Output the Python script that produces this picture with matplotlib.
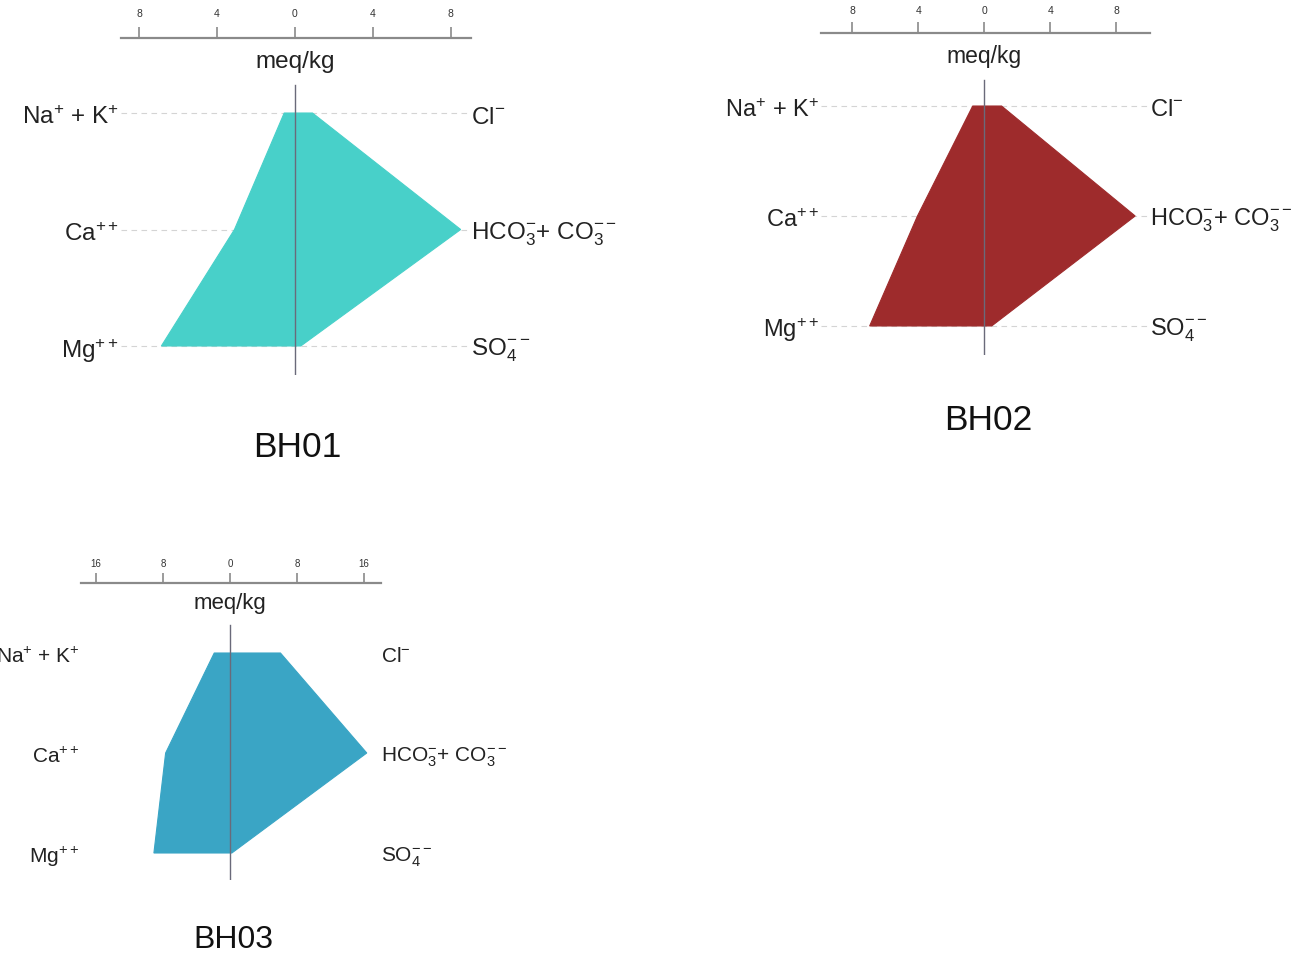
import matplotlib
matplotlib.use("Agg")
import matplotlib.pyplot as plt
import matplotlib.transforms as mtransforms

plt.rcParams["font.family"] = ["Liberation Sans", "DejaVu Sans"]
plt.rcParams["mathtext.fontset"] = "custom"
plt.rcParams["mathtext.rm"] = "Liberation Sans"
plt.rcParams["mathtext.it"] = "Liberation Sans:italic"
plt.rcParams["mathtext.bf"] = "Liberation Sans:bold"

# Ion labels (rows top to bottom)
cation_labels = [r"Na$^{+}$ + K$^{+}$", r"Ca$^{++}$", r"Mg$^{++}$"]
anion_labels = [r"Cl$^{-}$", r"HCO$_3^{-}$+ CO$_3^{\mathrm{--}}$", r"SO$_4^{\mathrm{--}}$"]

# Concentrations in meq/kg: [Na+K, Ca, Mg] and [Cl, HCO3+CO3, SO4]
bh01_cations = [0.55, 3.1, 6.85]
bh01_anions = [0.9, 8.5, 0.3]
bh02_cations = [0.7, 4.05, 6.95]
bh02_anions = [1.05, 9.15, 0.45]
bh03_cations = [1.9, 7.7, 9.1]
bh03_anions = [6.0, 16.3, 0.2]

# Scale ticks and their (absolute value) labels
ticks_small = [-8, -4, 0, 4, 8]
ticklabels_small = ["8", "4", "0", "4", "8"]
ticks_large = [-16, -8, 0, 8, 16]
ticklabels_large = ["16", "8", "0", "8", "16"]

sample_names = ["BH01", "BH02", "BH03"]
sample_colors = ["#48D0C9", "#9E2B2C", "#3AA5C5"]

W, H = 1300, 958
fig = plt.figure(figsize=(W / 100, H / 100), dpi=100)


def stiff(name, cations, anions, color, box, xlim, ylim, ticks, ticklabels,
          title_xy, fs_lab, fs_unit, fs_tick, fs_title, grid=True, line_top=-0.24,
          tick_len=7, tick_pad=5):
    left, top, right, bottom = box
    ax = fig.add_axes([left / W, 1 - bottom / H, (right - left) / W, (bottom - top) / H])
    ax.set_xlim(*xlim)
    ax.set_ylim(ylim[1], ylim[0])
    ax.patch.set_alpha(0)
    for s in ("left", "right", "bottom"):
        ax.spines[s].set_visible(False)
    ax.spines["top"].set_color("#8a8a8a")
    ax.spines["top"].set_linewidth(1.6)
    ax.set_yticks([])
    ax.xaxis.set_ticks_position("top")
    ax.set_xticks(ticks)
    ax.set_xticklabels(ticklabels)
    ax.tick_params(axis="x", direction="out", length=tick_len, width=1.2, color="#8a8a8a",
                   labelsize=fs_tick, labelcolor="#333333", pad=tick_pad)

    rows = list(range(len(cations)))
    if grid:
        for r in rows:
            ax.plot(xlim, [r, r], color="#d4d4d4", lw=0.8, ls=(0, (5, 4)), zorder=1)

    xs = [-c for c in cations] + [a for a in anions[::-1]]
    ys = rows + rows[::-1]
    ax.fill(xs, ys, facecolor=color, edgecolor=color, lw=0.8, zorder=2)

    ax.plot([0, 0], [line_top, ylim[1]], color="#6a6a7a", lw=1.0, zorder=3)

    tr = mtransforms.blended_transform_factory(ax.transAxes, ax.transData)
    for r, lab in zip(rows, cation_labels):
        ax.text(-0.005, r + 0.04, lab, transform=tr, ha="right", va="center",
                fontsize=fs_lab, color="#222222")
    for r, lab in zip(rows, anion_labels):
        ax.text(1.0, r + 0.04, lab, transform=tr, ha="left", va="center",
                fontsize=fs_lab, color="#222222")

    ax.text(0, (ylim[0] + line_top) / 2, "meq/kg", ha="center", va="center",
            fontsize=fs_unit, color="#222222")

    fig.text(title_xy[0] / W, 1 - title_xy[1] / H, name, ha="center", va="center",
             fontsize=fs_title, color="#111111")
    return ax


stiff(sample_names[0], bh01_cations, bh01_anions, sample_colors[0],
      (121, 38, 471, 375), (-8.92, 9.03), (-0.644, 2.249),
      ticks_small, ticklabels_small, (297, 447), 17.5, 17.5, 7.5, 25.5,
      line_top=-0.24, tick_len=8, tick_pad=6)

stiff(sample_names[1], bh02_cations, bh02_anions, sample_colors[1],
      (821, 33, 1150, 355), (-9.9, 10.05), (-0.664, 2.264),
      ticks_small, ticklabels_small, (988, 421), 17, 16.5, 7.5, 25.5,
      line_top=-0.236, tick_len=8, tick_pad=4)

stiff(sample_names[2], bh03_cations, bh03_anions, sample_colors[2],
      (81, 583, 381, 880), (-17.8, 18.0), (-0.7, 2.27),
      ticks_large, ticklabels_large, (233, 940), 15, 16, 7, 23,
      grid=False, line_top=-0.28, tick_len=7, tick_pad=3)

fig.savefig("out.png", dpi=100, facecolor="white")
